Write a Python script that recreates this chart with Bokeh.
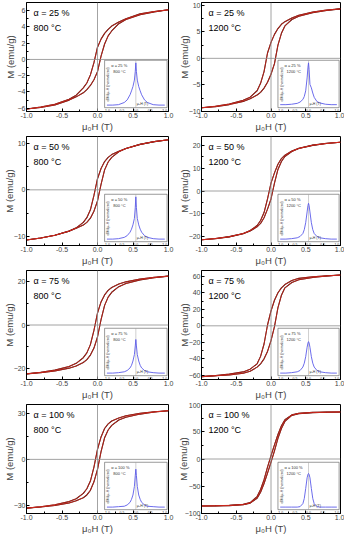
from bokeh.plotting import figure
from bokeh.layouts import gridplot
from bokeh.models import Range1d, Span, FixedTicker, NumeralTickFormatter
from bokeh.core.properties import value
from bokeh.embed import file_html
from bokeh.resources import INLINE

FONT = "Liberation Sans"

# ---------------- data ----------------
alpha_pct = ["25", "25", "50", "50", "75", "75", "100", "100"]
anneal_T = ["800", "1200", "800", "1200", "800", "1200", "800", "1200"]

# applied field mu0H (T)
H = [-1.0, -0.8, -0.6, -0.4, -0.3, -0.2, -0.15, -0.1, -0.05, 0.0,
     0.05, 0.1, 0.15, 0.2, 0.3, 0.4, 0.6, 0.8, 1.0]

# M (emu/g): branch coming down from +1 T (upper) and going up from -1 T (lower)
m_upper_25_800 = [-6.1, -5.85, -5.5, -4.9, -4.4, -3.5, -2.9, -1.9, -0.4, 1.5,
                  2.5, 3.2, 3.7, 4.1, 4.6, 5.0, 5.6, 5.9, 6.1]
m_lower_25_800 = [-6.1, -5.9, -5.6, -5.0, -4.6, -4.1, -3.7, -3.2, -2.5, -1.5,
                  0.4, 1.9, 2.9, 3.5, 4.4, 4.9, 5.5, 5.85, 6.1]
m_upper_25_1200 = [-9.3, -9.0, -8.6, -7.9, -7.3, -6.1, -4.7, -2.5, 1.0, 3.0,
                   4.5, 5.6, 6.4, 6.9, 7.6, 8.1, 8.7, 9.1, 9.3]
m_lower_25_1200 = [-9.3, -9.1, -8.7, -8.1, -7.6, -6.9, -6.4, -5.6, -4.5, -3.0,
                   -1.0, 2.5, 4.7, 6.1, 7.3, 7.9, 8.6, 9.0, 9.3]
m_upper_50_800 = [-10.8, -10.4, -9.8, -8.9, -8.2, -7.0, -6.0, -4.3, -1.2, 2.4,
                  4.6, 6.1, 7.0, 7.6, 8.3, 8.9, 9.8, 10.4, 10.8]
m_lower_50_800 = [-10.8, -10.4, -9.8, -8.9, -8.3, -7.6, -7.0, -6.1, -4.6, -2.4,
                  1.2, 4.3, 6.0, 7.0, 8.2, 8.9, 9.8, 10.4, 10.8]
m_upper_50_1200 = [-21.5, -20.9, -20.1, -18.7, -17.4, -15.2, -13.0, -9.5, -3.5, 3.5,
                   8.0, 11.8, 14.3, 15.8, 17.6, 18.8, 20.2, 21.0, 21.5]
m_lower_50_1200 = [-21.5, -21.0, -20.2, -18.8, -17.6, -15.8, -14.3, -11.8, -8.0, -3.5,
                   3.5, 9.5, 13.0, 15.2, 17.4, 18.7, 20.1, 20.9, 21.5]
m_upper_75_800 = [-22.4, -21.7, -20.7, -19.0, -17.6, -15.0, -12.8, -9.0, -2.5, 5.5,
                  10.6, 13.8, 15.9, 17.2, 18.8, 19.8, 21.1, 21.9, 22.4]
m_lower_75_800 = [-22.4, -21.9, -21.1, -19.8, -18.8, -17.2, -15.9, -13.8, -10.6, -5.5,
                  2.5, 9.0, 12.8, 15.0, 17.6, 19.0, 20.7, 21.7, 22.4]
m_upper_75_1200 = [-61.5, -60.3, -58.5, -55.8, -52.5, -46.0, -37.0, -22.0, 1.0, 18.0,
                   31.0, 40.0, 46.0, 50.0, 55.0, 57.5, 59.5, 60.5, 61.5]
m_lower_75_1200 = [-61.5, -60.5, -59.5, -57.5, -55.0, -50.0, -46.0, -40.0, -31.0, -18.0,
                   -1.0, 22.0, 37.0, 46.0, 52.5, 55.8, 58.5, 60.3, 61.5]
m_upper_100_800 = [-31.5, -30.6, -29.3, -27.3, -25.5, -22.0, -19.0, -14.0, -5.0, 6.5,
                   14.5, 20.0, 23.0, 24.8, 26.8, 28.2, 29.8, 30.8, 31.5]
m_lower_100_800 = [-31.5, -30.8, -29.8, -28.2, -26.8, -24.8, -23.0, -20.0, -14.5, -6.5,
                   5.0, 14.0, 19.0, 22.0, 25.5, 27.3, 29.3, 30.6, 31.5]
m_upper_100_1200 = [-86.3, -85.8, -85.0, -83.2, -80.0, -69.0, -56.0, -38.0, -15.0, 6.0,
                    26.0, 45.0, 61.0, 72.0, 81.0, 84.0, 85.6, 86.0, 86.3]
m_lower_100_1200 = [-86.3, -86.0, -85.6, -84.0, -81.0, -72.0, -61.0, -45.0, -26.0, -6.0,
                    15.0, 38.0, 56.0, 69.0, 80.0, 83.2, 85.0, 85.8, 86.3]

upper = [m_upper_25_800, m_upper_25_1200, m_upper_50_800, m_upper_50_1200,
         m_upper_75_800, m_upper_75_1200, m_upper_100_800, m_upper_100_1200]
lower = [m_lower_25_800, m_lower_25_1200, m_lower_50_800, m_lower_50_1200,
         m_lower_75_800, m_lower_75_1200, m_lower_100_800, m_lower_100_1200]

y_limits = [(-6.4, 7.0), (-10.0, 10.5), (-12.0, 11.5), (-24.0, 24.0),
            (-25.0, 25.0), (-65.0, 67.0), (-35.0, 35.5), (-100.0, 100.0)]
y_ticks = [[-6, -4, -2, 0, 2, 4, 6], [-10, -5, 0, 5, 10], [-10, 0, 10],
           [-20, -10, 0, 10, 20], [-20, 0, 20], [-60, -40, -20, 0, 20, 40, 60],
           [-30, 0, 30], [-100, -50, 0, 50, 100]]
x_ticks = [-1.0, -0.5, 0.0, 0.5, 1.0]
x_tick_labels = ["-1.0", "-0.5", "0.0", "0.5", "1.0"]

# inset: normalized dM/d(mu0H) vs mu0H
HI = [-1.0, -0.8, -0.6, -0.4, -0.3, -0.2, -0.15, -0.1, -0.05, -0.02, 0.0,
      0.02, 0.05, 0.1, 0.15, 0.2, 0.3, 0.4, 0.6, 0.8, 1.0]
d_25_800 = [0.02, 0.02, 0.03, 0.08, 0.14, 0.26, 0.35, 0.45, 0.6, 0.8, 1.0,
            0.8, 0.6, 0.45, 0.35, 0.26, 0.14, 0.08, 0.03, 0.02, 0.02]
d_25_1200 = [0.03, 0.03, 0.04, 0.06, 0.09, 0.15, 0.22, 0.35, 0.65, 0.9, 1.0,
             0.85, 0.5, 0.42, 0.3, 0.2, 0.1, 0.07, 0.04, 0.03, 0.03]
d_50_800 = [0.02, 0.02, 0.03, 0.06, 0.1, 0.18, 0.25, 0.35, 0.5, 0.75, 1.0,
            0.75, 0.5, 0.35, 0.25, 0.18, 0.1, 0.06, 0.03, 0.02, 0.02]
d_50_1200 = [0.02, 0.02, 0.03, 0.05, 0.08, 0.15, 0.24, 0.4, 0.65, 0.8, 0.85,
             0.8, 0.65, 0.4, 0.24, 0.15, 0.08, 0.05, 0.03, 0.02, 0.02]
d_75_800 = [0.02, 0.02, 0.03, 0.05, 0.08, 0.14, 0.2, 0.3, 0.45, 0.65, 0.8,
            0.65, 0.45, 0.3, 0.2, 0.14, 0.08, 0.05, 0.03, 0.02, 0.02]
d_75_1200 = [0.02, 0.02, 0.03, 0.05, 0.08, 0.16, 0.25, 0.4, 0.62, 0.72, 0.75,
             0.72, 0.62, 0.4, 0.25, 0.16, 0.08, 0.05, 0.03, 0.02, 0.02]
d_100_800 = [0.02, 0.02, 0.03, 0.04, 0.07, 0.13, 0.2, 0.3, 0.5, 0.75, 0.9,
             0.75, 0.5, 0.3, 0.2, 0.13, 0.07, 0.04, 0.03, 0.02, 0.02]
d_100_1200 = [0.02, 0.02, 0.02, 0.02, 0.03, 0.1, 0.22, 0.45, 0.7, 0.78, 0.8,
              0.78, 0.7, 0.45, 0.22, 0.1, 0.03, 0.02, 0.02, 0.02, 0.02]
insets = [d_25_800, d_25_1200, d_50_800, d_50_1200,
          d_75_800, d_75_1200, d_100_800, d_100_1200]

# ---------------- layout / style ----------------
INSET_XF = (0.55, 0.99)     # inset box as fraction of main frame
INSET_YF = (0.035, 0.47)
BOX_X = (-1.08, 1.08)       # inset box in inset coordinates
BOX_Y = (-0.04, 1.06)

COL_W = [174, 170]
COL_BL = [18, 20]
COL_BR = [6, 4]


def extra_range(f0, f1, lo, hi):
    span = (hi - lo) / (f1 - f0)
    start = lo - f0 * span
    return Range1d(start, start + span)


def minor_of(ticks):
    out = []
    for a, b in zip(ticks[:-1], ticks[1:]):
        out.append((a + b) / 2.0)
    return out


def make_panel(i):
    y0, y1 = y_limits[i]
    c = i % 2
    p = figure(width=COL_W[c], height=134, x_range=Range1d(-1.0, 1.0),
               y_range=Range1d(y0, y1), output_backend="svg",
               toolbar_location=None, min_border_left=COL_BL[c],
               min_border_right=COL_BR[c], min_border_top=2, min_border_bottom=19)
    p.extra_x_ranges = {"ins": extra_range(INSET_XF[0], INSET_XF[1], *BOX_X)}
    p.extra_y_ranges = {"ins": extra_range(INSET_YF[0], INSET_YF[1], *BOX_Y)}
    p.grid.visible = False
    p.outline_line_color = "black"
    p.outline_line_width = 1
    p.background_fill_color = "white"
    p.border_fill_color = "white"

    p.xaxis.ticker = FixedTicker(ticks=x_ticks, minor_ticks=[-0.75, -0.25, 0.25, 0.75])
    p.xaxis.formatter = NumeralTickFormatter(format="0.0")
    p.yaxis.ticker = FixedTicker(ticks=y_ticks[i], minor_ticks=minor_of(y_ticks[i]))
    for ax in (p.xaxis, p.yaxis):
        ax.major_tick_in = 3
        ax.major_tick_out = 0
        ax.minor_tick_in = 2
        ax.minor_tick_out = 0
        ax.major_label_text_font = FONT
        ax.major_label_text_font_size = "7px"
        ax.major_label_standoff = 1
        ax.axis_label_text_font = FONT
        ax.axis_label_text_font_size = "9.5px"
        ax.axis_label_text_font_style = "normal"
        ax.axis_label_standoff = 0
        ax.axis_line_color = "black"
    # keep the label column narrow, as in the reference (labels crowd the ticks)
    longest = max(len(str(t)) for t in y_ticks[i])
    p.yaxis.axis_label_standoff = -1 - 3 * max(0, longest - 2)
    p.xaxis.axis_label = "μ₀H (T)"
    p.yaxis.axis_label = "M (emu/g)"

    p.add_layout(Span(location=0, dimension="width", line_color="#8c8c8c", line_width=0.8))
    p.add_layout(Span(location=0, dimension="height", line_color="#8c8c8c", line_width=0.8))

    # hysteresis loop: measured (dark) and red overlay
    p.line(H, lower[i], line_color="#3b0b06", line_width=1.1)
    p.line(H, upper[i], line_color="#3b0b06", line_width=1.1)
    p.line(H, lower[i], line_color="#e32b1f", line_width=0.7)
    p.line(H, upper[i], line_color="#e32b1f", line_width=0.7)

    p.text(x=[-0.9], y=[y0 + 0.9 * (y1 - y0)], text=[f"α = {alpha_pct[i]} %"],
           text_font=value(FONT), text_font_size="9px", text_baseline="middle",
           text_color="black")
    p.text(x=[-0.9], y=[y0 + 0.77 * (y1 - y0)], text=[f"{anneal_T[i]} °C"],
           text_font=value(FONT), text_font_size="9px", text_baseline="middle",
           text_color="black")

    # inset
    kw = dict(x_range_name="ins", y_range_name="ins")
    p.quad(left=[BOX_X[0]], right=[BOX_X[1]], bottom=[BOX_Y[0]], top=[BOX_Y[1]],
           fill_color="white", line_color="#555555", line_width=0.6, **kw)
    p.segment(x0=[0.0], y0=[BOX_Y[0]], x1=[0.0], y1=[BOX_Y[1]],
              line_color="#a0a0a0", line_width=0.5, **kw)
    p.line(HI, insets[i], line_color="#5b5bea", line_width=0.9, **kw)
    p.text(x=x_ticks, y=[BOX_Y[0]] * 5, text=x_tick_labels, text_font=value(FONT),
           text_font_size="3.5px", text_align="center", text_baseline="top",
           y_offset=1, text_color="#333333", **kw)
    p.text(x=[0.03], y=[0.0], text=["μ₀H (T)"], text_font=value(FONT),
           text_font_size="3.5px", text_baseline="bottom", text_color="#333333", **kw)
    p.text(x=[-1.02], y=[0.5], text=["dM/dμ₀H (normalized)"], text_font=value(FONT),
           text_font_size="3.5px", text_align="center", text_baseline="top",
           angle=1.5708, text_color="#333333", **kw)
    p.text(x=[-0.85], y=[0.93], text=[f"α = {alpha_pct[i]} %"], text_font=value(FONT),
           text_font_size="4px", text_baseline="middle", text_color="#333333", **kw)
    p.text(x=[-0.78], y=[0.8], text=[f"{anneal_T[i]} °C"], text_font=value(FONT),
           text_font_size="4px", text_baseline="middle", text_color="#333333", **kw)
    return p


panels = [make_panel(i) for i in range(8)]
grid = gridplot([[panels[0], panels[1]], [panels[2], panels[3]],
                 [panels[4], panels[5]], [panels[6], panels[7]]],
                toolbar_location=None)

open("out.html", "w").write(file_html(grid, INLINE))
